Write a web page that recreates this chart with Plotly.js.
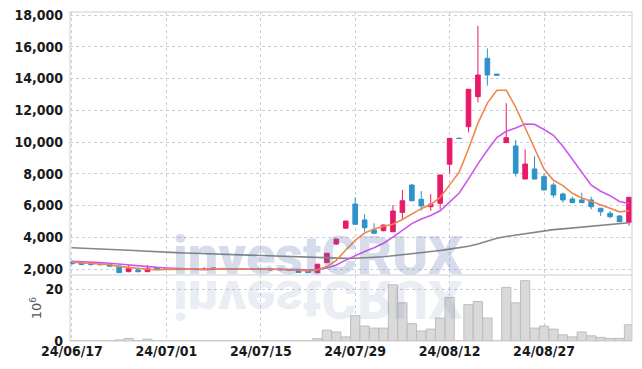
<!DOCTYPE html>
<html><head><meta charset="utf-8">
<script src="https://cdn.plot.ly/plotly-3.0.1.min.js"></script>
<style>html,body{margin:0;padding:0;background:#fff}#chart{width:642px;height:369px}</style>
</head><body><div id="chart"></div>
<script>
const dates = ['24/06/17','24/06/18','24/06/19','24/06/20','24/06/21','24/06/24','24/06/25','24/06/26','24/06/27','24/06/28',
'24/07/01','24/07/02','24/07/03','24/07/04','24/07/05','24/07/08','24/07/09','24/07/10','24/07/11','24/07/12',
'24/07/15','24/07/16','24/07/17','24/07/18','24/07/19','24/07/22','24/07/23','24/07/24','24/07/25','24/07/26',
'24/07/29','24/07/30','24/07/31','24/08/01','24/08/02','24/08/05','24/08/06','24/08/07','24/08/08','24/08/09',
'24/08/12','24/08/13','24/08/14','24/08/16','24/08/19','24/08/20','24/08/21','24/08/22','24/08/23','24/08/26',
'24/08/27','24/08/28','24/08/29','24/08/30','24/09/02','24/09/03','24/09/04','24/09/05','24/09/06','24/09/09'];

const openP  = [2440,2400,2350,2300,2290,2190,1830,1940,1830,2040, 2000,1980,1990,2000,1970,1990,2040,2020,2010,2000,
                1990,1940,1990,1950,1930,1900,1770,2400,3575,4570, 6095,5090,4460,4410,4350,5570,7290,6390,5925,6140,
                8600,10240,10965,12855,15270,14280,9960,9750,7670,8300, 7815,7290,6725,6410,6350,6350,5825,5510,5340,4940];
const highP  = [2470,2420,2380,2320,2300,2200,2250,1960,2250,2050, 2010,2010,2020,2010,2120,2070,2050,2030,2020,2010,
                2000,2000,2000,1960,1940,1950,2320,3010,3890,5030, 6520,5450,4880,4800,6030,6980,7350,6910,6720,7950,
                10240,10240,13330,17310,15900,14280,12440,10130,9540,9120, 8030,7440,6810,6555,6810,6555,5850,5655,5400,6520];
const lowP   = [2300,2260,2200,2250,2150,1750,1800,1790,1820,1990, 1960,1970,1980,1970,1960,1980,2010,2000,1990,1980,
                1970,1930,1940,1900,1760,1750,1720,2380,3510,4560, 4800,4350,4230,4380,4330,5090,6250,5670,5670,5760,
                8030,10220,10610,12500,13550,14210,9950,7815,7650,7650, 6950,6490,6180,6170,6170,5760,5340,5195,4970,4730];
const closeP = [2330,2280,2280,2270,2170,1770,2020,1830,2040,2000, 1980,1990,2000,1980,2010,2050,2020,2010,2000,1990,
                1980,1990,1950,1920,1780,1770,2300,2990,3890,5020, 4816,4600,4250,4770,5650,6300,6300,5970,6080,7920,
                10230,10220,13320,14220,14220,14210,10270,8030,8615,7670, 6980,6660,6350,6180,6180,5925,5610,5295,4980,6517];
const volume = [0.05,0.05,0.05,0.05,0.1,0.4,1.0,0.1,0.7,0.05, 0.05,0.05,0.05,0.05,0.05,0.05,0.05,0.05,0.05,0.05,
                0.05,0.05,0.05,0.05,0.05,0.05,0.9,4.2,3.5,1.6, 9.8,5.8,5.0,5.0,21.8,14.8,6.7,3.9,4.6,8.9,
                16.9,0,14.1,15.3,8.9,0,20.8,14.8,23.4,5.0, 5.8,4.6,2.4,1.6,3.5,2.0,1.4,1.0,1.0,6.3];
const ma5    = [2430,2400,2370,2330,2270,2150,2100,2010,1970,1935, 1975,1970,2000,1990,1990,2005,2010,2015,2020,2015,
                2000,1995,1980,1965,1925,1880,1945,2150,2545,3195, 3805,4265,4515,4690,4820,5115,5455,5800,6060,6515,
                7300,8090,9560,11190,12450,13260,13260,12200,10900,9650, 8300,7590,7255,6770,6470,6260,6050,5840,5600,5665];
const ma10   = [2490,2470,2440,2400,2360,2300,2250,2190,2140,2100, 2065,2035,2005,1980,1960,1990,1990,2010,2005,2005,
                2005,2005,2000,1990,1970,1940,1970,2065,2255,2560, 2845,3105,3335,3620,4005,4460,4860,5155,5375,5665,
                6205,6770,7680,8625,9480,10280,10675,10880,11135,11110, 10785,10425,9730,8925,8120,7285,6900,6620,6250,6120];
const maLong = [3340,3320,3300,3270,3240,3210,3180,3150,3110,3080, 3060,3030,3010,2990,2970,2950,2925,2900,2870,2845,
                2820,2800,2775,2750,2730,2710,2690,2670,2665,2670, 2680,2700,2730,2770,2830,2890,2960,3030,3100,3170,
                3250,3330,3430,3580,3750,3940,4050,4140,4230,4320, 4400,4480,4530,4580,4620,4680,4740,4800,4850,4910];
const xTicks = ['24/06/17','24/07/01','24/07/15','24/07/29','24/08/12','24/08/27'];
const priceTicks = [2000,4000,6000,8000,10000,12000,14000,16000,18000];
const volTicks = [0,20];

const tickFont = {family:'"Liberation Sans Narrow","DejaVu Sans Condensed",sans-serif', size:14, color:'#1a1a1a', weight:'bold'};
const gridC = '#c9cee0';
const frameC = '#cdcdcd';
const split = 66/329;

const data = [
  {type:'candlestick', x:dates, open:openP, high:highP, low:lowP, close:closeP, xaxis:'x', yaxis:'y',
   increasing:{line:{color:'#e8196b', width:1}, fillcolor:'#e8196b'},
   decreasing:{line:{color:'#2e93c8', width:1}, fillcolor:'#2e93c8'}, hoverinfo:'skip'},
  {type:'scatter', mode:'lines', x:dates, y:maLong, xaxis:'x', yaxis:'y', line:{color:'#858585', width:1.6}, hoverinfo:'skip'},
  {type:'scatter', mode:'lines', x:dates, y:ma10, xaxis:'x', yaxis:'y', line:{color:'#cc55ee', width:1.6}, hoverinfo:'skip'},
  {type:'scatter', mode:'lines', x:dates, y:ma5, xaxis:'x', yaxis:'y', line:{color:'#f0884e', width:1.6}, hoverinfo:'skip'},
  {type:'bar', x:dates, y:volume, xaxis:'x', yaxis:'y2', marker:{color:'#d9d9d9', line:{color:'#bdbdbd', width:1}}, hoverinfo:'skip'}
];

const wmFont = {family:'Roboto, "Open Sans", sans-serif', size:54, weight:900};
const layout = {
  width:642, height:369,
  margin:{l:70, r:10, t:12, b:28},
  paper_bgcolor:'#ffffff', plot_bgcolor:'#ffffff',
  showlegend:false, bargap:0.02,
  xaxis:{type:'category', range:[-0.21, 59.32], anchor:'y2', tickmode:'array', tickvals:xTicks, ticktext:xTicks,
         showgrid:true, gridcolor:gridC, griddash:'dot', gridwidth:1, zeroline:false, showline:false, ticks:'',
         tickfont:tickFont, rangeslider:{visible:false}, fixedrange:true},
  yaxis:{domain:[split,1], range:[1622,18189], tickmode:'array', tickvals:priceTicks, tickformat:',d',
         showgrid:true, gridcolor:gridC, griddash:'dot', zeroline:false, showline:false, ticks:'',
         tickfont:tickFont, ticklabelstandoff:6},
  yaxis2:{domain:[0,split], range:[0,25.6], tickmode:'array', tickvals:volTicks,
         showgrid:true, gridcolor:gridC, griddash:'dot', zeroline:false, showline:false, ticks:'',
         tickfont:tickFont, ticklabelstandoff:6,
         title:{text:'10<sup>6</sup>', font:{family:'"DejaVu Sans",sans-serif', size:13, color:'#555'}, standoff:0}},
  shapes:[
    {type:'line', xref:'paper', yref:'paper', x0:0, x1:0, y0:0, y1:1, line:{color:frameC, width:1}},
    {type:'line', xref:'paper', yref:'paper', x0:1, x1:1, y0:0, y1:1, line:{color:frameC, width:1}},
    {type:'line', xref:'paper', yref:'paper', x0:0, x1:1, y0:1, y1:1, line:{color:frameC, width:1}},
    {type:'line', xref:'paper', yref:'paper', x0:0, x1:1, y0:0, y1:0, line:{color:frameC, width:1}},
    {type:'line', xref:'paper', yref:'paper', x0:0, x1:1, y0:split, y1:split, line:{color:frameC, width:1}}
  ],
  annotations:[
    {text:'investCRUX', xref:'paper', yref:'paper', x:0.442, y:0.26, xanchor:'center', yanchor:'middle', showarrow:false,
     font:Object.assign({color:'rgba(95,115,170,0.25)'}, wmFont)},
    {text:'investCRUX', xref:'paper', yref:'paper', x:0.442, y:0.125, xanchor:'center', yanchor:'middle', showarrow:false,
     font:Object.assign({color:'rgba(95,115,170,0.12)'}, wmFont)}
  ]
};

Plotly.newPlot('chart', data, layout, {staticPlot:true, displayModeBar:false}).then(function(gd){
  var t = gd.querySelector('.annotation[data-index="1"] text');
  if (t) { t.style.transformBox = 'fill-box'; t.style.transformOrigin = 'center'; t.style.transform = 'scaleY(-1)'; }
});
</script>
</body></html>
